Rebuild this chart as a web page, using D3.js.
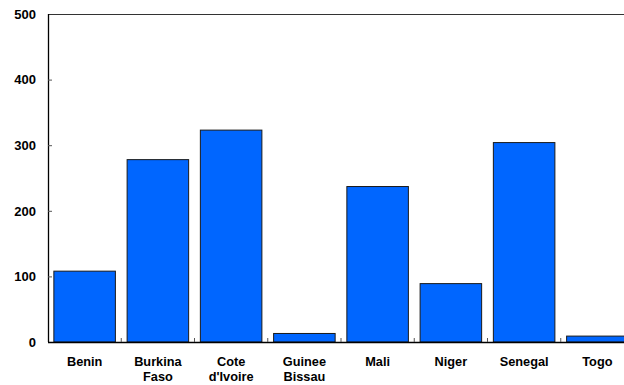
<!DOCTYPE html>
<html>
<head>
<meta charset="utf-8">
<script src="https://cdn.jsdelivr.net/npm/d3@7/dist/d3.min.js"></script>
<style>
  html, body { margin: 0; padding: 0; background: #fff; overflow: hidden; }
  svg { display: block; }
  text { font-family: Arial, "Liberation Sans", Helvetica, sans-serif; font-weight: bold; fill: #000; }
</style>
</head>
<body>
<svg id="chart" width="624" height="385"></svg>
<script>
// Country names (each split into display lines) and their values
const countries = ["Benin", "Burkina Faso", "Cote d'Ivoire", "Guinee Bissau", "Mali", "Niger", "Senegal", "Togo"];
const labelLines = [["Benin"], ["Burkina", "Faso"], ["Cote", "d'Ivoire"], ["Guinee", "Bissau"], ["Mali"], ["Niger"], ["Senegal"], ["Togo"]];
const values = [108, 278, 323, 13, 237, 89, 304, 9];
const yTicks = [0, 100, 200, 300, 400, 500];

const svg = d3.select("#chart");
const plotLeft = 48, plotRight = 634, plotTop = 14, plotBottom = 342;

const x = d3.scaleBand()
  .domain(countries)
  .range([plotLeft, plotRight])
  .paddingInner(0.16)
  .paddingOuter(0.08);

const y = d3.scaleLinear().domain([0, 500]).range([plotBottom, plotTop]);

// Frame top edge
svg.append("line")
  .attr("x1", plotLeft).attr("x2", plotRight)
  .attr("y1", plotTop + 0.5).attr("y2", plotTop + 0.5)
  .attr("stroke", "#333").attr("stroke-width", 1.2);

// Bars
svg.append("g").selectAll("rect")
  .data(values)
  .join("rect")
  .attr("x", (d, i) => x(countries[i]))
  .attr("y", d => y(d))
  .attr("width", x.bandwidth())
  .attr("height", d => y(0) - y(d))
  .attr("fill", "#0066ff")
  .attr("stroke", "#1a1a1a")
  .attr("stroke-width", 1);

// Y axis with inward ticks
const yAxis = svg.append("g")
  .attr("transform", `translate(${plotLeft},0)`)
  .call(d3.axisRight(y).tickValues(yTicks).tickSize(4).tickFormat(""));
yAxis.select(".domain").attr("stroke", "#000").attr("stroke-width", 1.3)
  .attr("d", `M0.5,${plotTop}V${plotBottom}`);
yAxis.selectAll(".tick line").attr("stroke", "#555")
  .filter(d => d === 0 || d === 500).remove();

svg.append("g").selectAll("text")
  .data(yTicks)
  .join("text")
  .attr("x", 36)
  .attr("y", d => y(d) + 4.7)
  .attr("text-anchor", "end")
  .attr("font-size", 13)
  .text(d => d);

// X axis baseline and category separators pointing up
svg.append("line")
  .attr("x1", plotLeft).attr("x2", plotRight)
  .attr("y1", plotBottom + 0.5).attr("y2", plotBottom + 0.5)
  .attr("stroke", "#000").attr("stroke-width", 1.3);

const step = x.step();
const boundaries = countries.slice(1).map(c => x(c) - step * x.paddingInner() / 2);
svg.append("g").selectAll("line")
  .data(boundaries)
  .join("line")
  .attr("x1", d => d).attr("x2", d => d)
  .attr("y1", plotBottom).attr("y2", plotBottom - 4)
  .attr("stroke", "#555");

// Category labels
const labels = svg.append("g").selectAll("text")
  .data(labelLines)
  .join("text")
  .attr("text-anchor", "middle")
  .attr("font-size", 12.75)
  .attr("transform", (d, i) => `translate(${x(countries[i]) + x.bandwidth() / 2},366)`);
labels.selectAll("tspan")
  .data(d => d)
  .join("tspan")
  .attr("x", 0)
  .attr("dy", (d, j) => j === 0 ? 0 : 15)
  .text(d => d);
</script>
</body>
</html>
